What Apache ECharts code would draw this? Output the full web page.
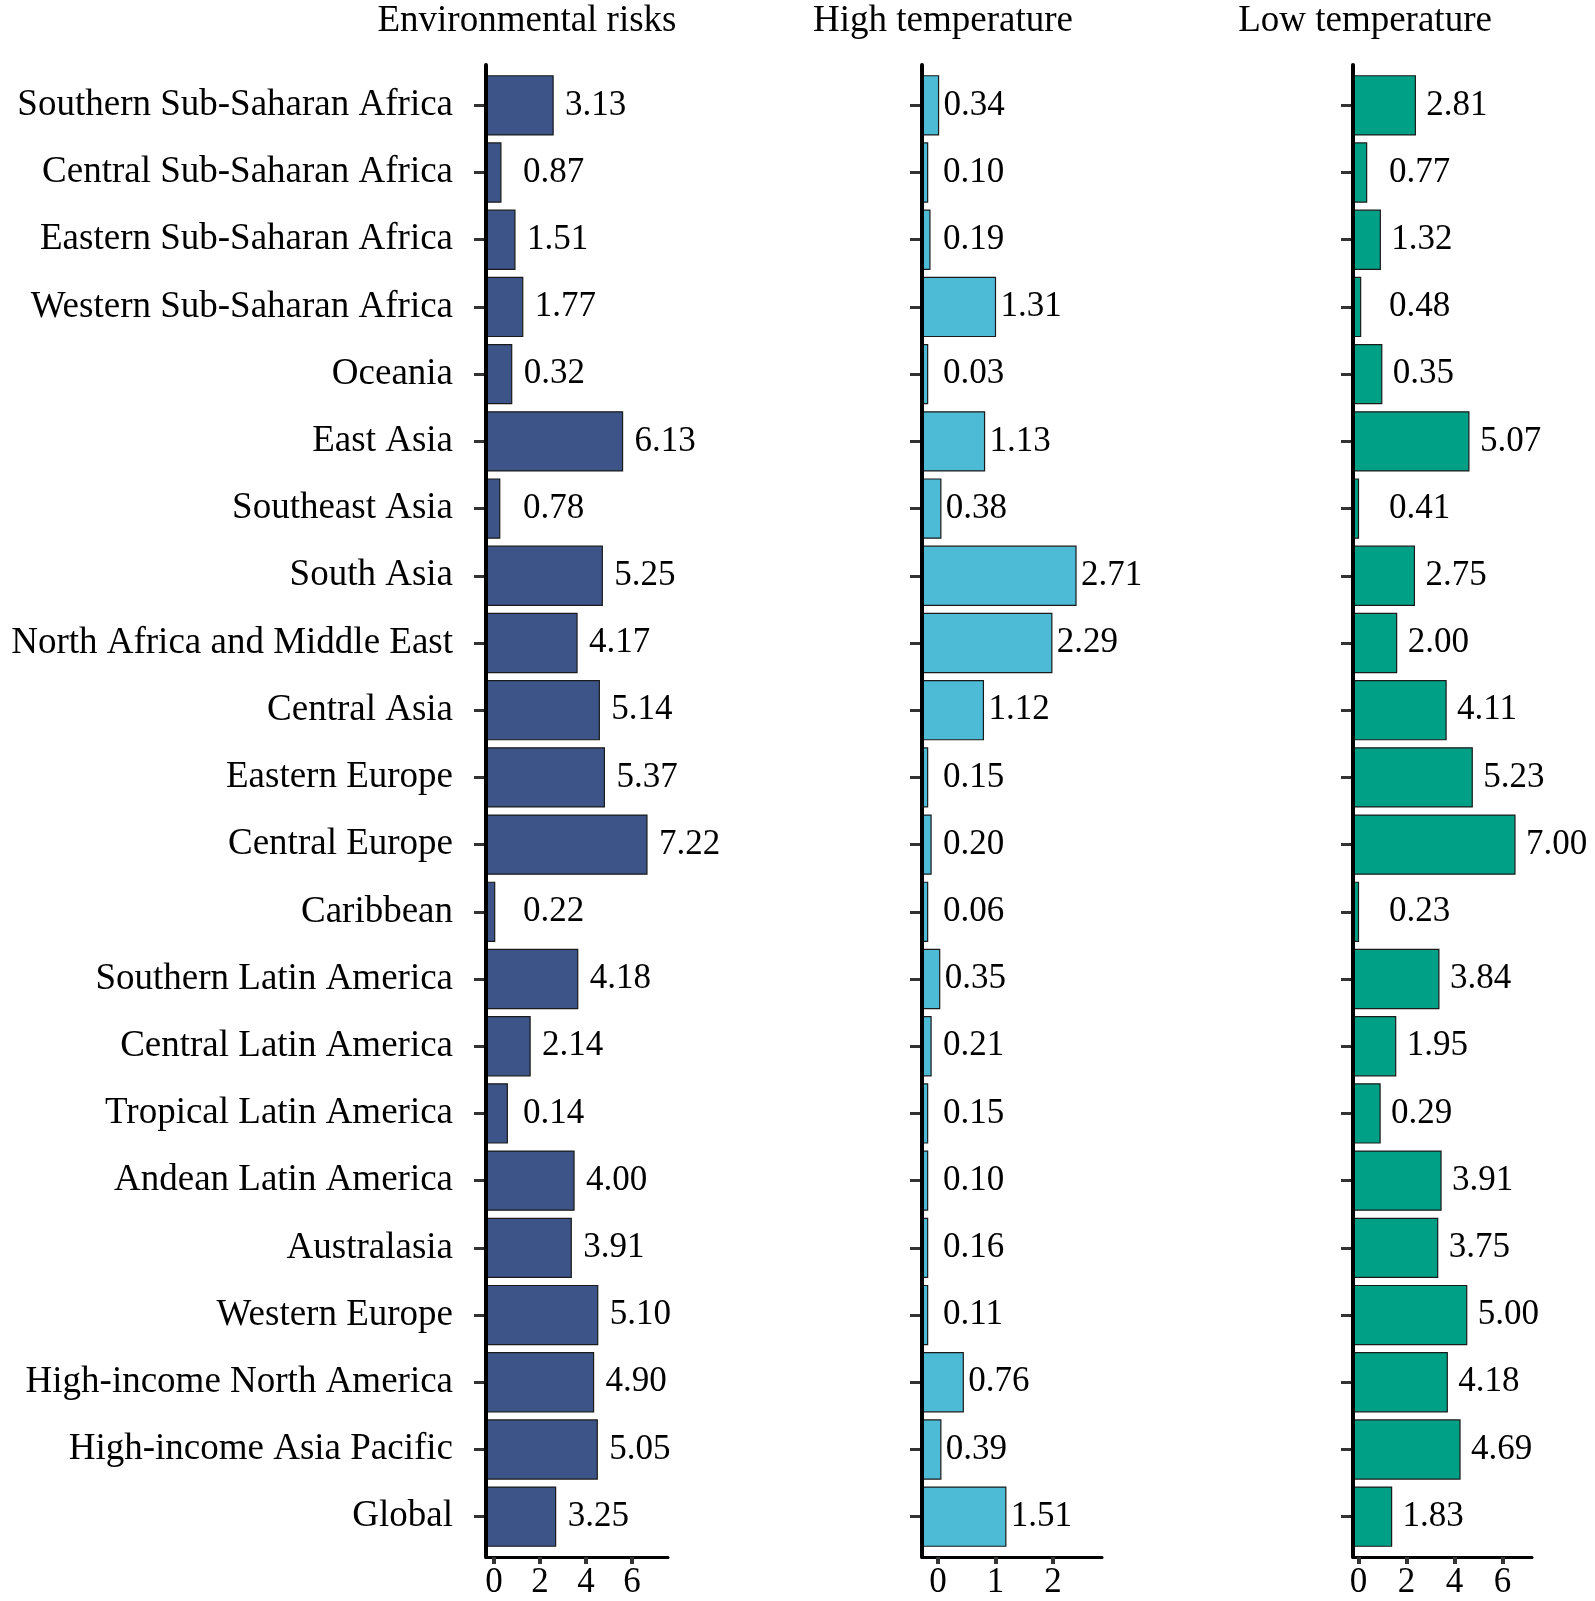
<!DOCTYPE html>
<html>
<head>
<meta charset="utf-8">
<title>Environmental risks / High temperature / Low temperature</title>
<script src="https://cdn.jsdelivr.net/npm/echarts@6/dist/echarts.min.js"></script>
<style>
  html, body { margin: 0; padding: 0; background: #fff; }
  #main { width: 1595px; height: 1601px; }
</style>
</head>
<body>
<div id="main"></div>
<script>
// 地区（从上到下）
var regions = ['Southern Sub-Saharan Africa', 'Central Sub-Saharan Africa', 'Eastern Sub-Saharan Africa',
  'Western Sub-Saharan Africa', 'Oceania', 'East Asia', 'Southeast Asia', 'South Asia',
  'North Africa and Middle East', 'Central Asia', 'Eastern Europe', 'Central Europe', 'Caribbean',
  'Southern Latin America', 'Central Latin America', 'Tropical Latin America', 'Andean Latin America',
  'Australasia', 'Western Europe', 'High-income North America', 'High-income Asia Pacific', 'Global'];

var panelTitles = ['Environmental risks', 'High temperature', 'Low temperature'];

// 柱子长度（按坐标轴读数估计）
var envBars = [2.57, 0.30, 0.91, 1.25, 0.77, 5.59, 0.25, 4.71, 3.61, 4.58, 4.80,
  6.65, 0.03, 3.64, 1.57, 0.58, 3.48, 3.36, 4.51, 4.33, 4.49, 2.68];
var highBars = [0.01, -0.18, -0.14, 1.00, -0.18, 0.81, 0.05, 2.40, 1.98, 0.79, -0.18,
  -0.12, -0.18, 0.03, -0.12, -0.18, -0.18, -0.18, -0.18, 0.44, 0.05, 1.18];
var lowBars = [2.37, 0.34, 0.91, 0.09, 0.97, 4.60, 0.00, 2.33, 1.59, 3.65, 4.74,
  6.52, 0.00, 3.35, 1.55, 0.90, 3.44, 3.30, 4.51, 3.70, 4.23, 1.38];

// 柱子旁边的数值标签
var envLabels = ['3.13', '0.87', '1.51', '1.77', '0.32', '6.13', '0.78', '5.25', '4.17', '5.14', '5.37',
  '7.22', '0.22', '4.18', '2.14', '0.14', '4.00', '3.91', '5.10', '4.90', '5.05', '3.25'];
var highLabels = ['0.34', '0.10', '0.19', '1.31', '0.03', '1.13', '0.38', '2.71', '2.29', '1.12', '0.15',
  '0.20', '0.06', '0.35', '0.21', '0.15', '0.10', '0.16', '0.11', '0.76', '0.39', '1.51'];
var lowLabels = ['2.81', '0.77', '1.32', '0.48', '0.35', '5.07', '0.41', '2.75', '2.00', '4.11', '5.23',
  '7.00', '0.23', '3.84', '1.95', '0.29', '3.91', '3.75', '5.00', '4.18', '4.69', '1.83'];

// x轴刻度
var envTicks = [0, 2, 4, 6];
var highTicks = [0, 1, 2];
var lowTicks = [0, 2, 4, 6];

var font = 'Liberation Serif';

// 每个面板的位置和样式
var panels = [
  { bars: envBars, labels: envLabels, ticks: envTicks, color: '#3C5488',
    left: 486, width: 182, min: -0.348, max: 7.565, titleX: 527, gap: 12, minOff: 37 },
  { bars: highBars, labels: highLabels, ticks: highTicks, color: '#4DBBD5',
    left: 922, width: 180, min: -0.278, max: 2.852, titleX: 943, gap: 5, minOff: 21 },
  { bars: lowBars, labels: lowLabels, ticks: lowTicks, color: '#00A087',
    left: 1353, width: 179, min: -0.229, max: 7.23, titleX: 1365, gap: 11, minOff: 36 }
];

var band = 1492 / 22.2;          // 类目间距（上下各留0.6个类目）
var innerTop = 65 + 0.1 * band;

var grid = [], xAxis = [], yAxis = [], series = [], title = [];

panels.forEach(function (p, k) {
  // 内层网格：画柱子
  grid.push({ left: p.left, width: p.width, top: innerTop, height: 22 * band });
  // 外层网格：画坐标轴线
  grid.push({ left: p.left, width: p.width, top: 65, height: 1492 });

  xAxis.push({ gridIndex: 2 * k, type: 'value', min: p.min, max: p.max, show: false });
  xAxis.push({
    gridIndex: 2 * k + 1, type: 'value', min: p.min, max: p.max, z: 5,
    axisLine: { show: true, onZero: false, lineStyle: { color: '#000', width: 3 } },
    axisTick: { show: true, length: 7, customValues: p.ticks, lineStyle: { color: '#333', width: 4 } },
    axisLabel: { show: true, customValues: p.ticks, margin: 8, color: '#000', fontSize: 35, fontFamily: font },
    splitLine: { show: false }
  });

  yAxis.push({
    gridIndex: 2 * k, type: 'category', inverse: true, data: regions,
    axisLine: { show: false, onZero: false },
    axisTick: { show: true, alignWithLabel: true, length: 12, lineStyle: { color: '#333', width: 3 } },
    axisLabel: {
      show: k === 0, margin: 33, color: '#000', fontSize: 37, fontFamily: font,
      padding: [0, 0, 10, 0]
    }
  });
  yAxis.push({
    gridIndex: 2 * k + 1, type: 'value', min: 0, max: 1, z: 5,
    axisLine: { show: true, onZero: false, lineStyle: { color: '#000', width: 4 } },
    axisTick: { show: false }, axisLabel: { show: false }, splitLine: { show: false }
  });

  title.push({
    text: panelTitles[k], left: p.titleX, top: 3, textAlign: 'center', padding: 0,
    textStyle: { fontSize: 37, fontWeight: 'normal', fontFamily: font, color: '#000' }
  });

  series.push({
    type: 'custom',
    name: panelTitles[k],
    xAxisIndex: 2 * k,
    yAxisIndex: 2 * k,
    encode: { x: 0, y: 1 },
    data: p.bars.map(function (v, i) { return [v, i]; }),
    renderItem: function (params, api) {
      var i = api.value(1);
      var start = api.coord([p.min, i]);
      var end = api.coord([api.value(0), i]);
      var h = api.size([0, 1])[1] * 0.88;
      var lx = Math.max(end[0] + p.gap, start[0] + p.minOff);
      return {
        type: 'group',
        children: [
          {
            type: 'rect',
            shape: { x: start[0], y: start[1] - h / 2, width: end[0] - start[0], height: h },
            style: { fill: p.color, stroke: '#1a1a1a', lineWidth: 1.2 }
          },
          {
            type: 'text',
            x: lx,
            y: start[1],
            style: {
              text: p.labels[params.dataIndex],
              fill: '#000',
              fontSize: 35,
              fontFamily: font,
              align: 'left', textAlign: 'left',
              verticalAlign: 'middle', textVerticalAlign: 'middle'
            }
          }
        ]
      };
    }
  });
});

var myChart = echarts.init(document.getElementById('main'));
var option = {
  backgroundColor: '#fff',
  animation: false,
  title: title,
  grid: grid,
  xAxis: xAxis,
  yAxis: yAxis,
  series: series
};
myChart.setOption(option);
</script>
</body>
</html>
